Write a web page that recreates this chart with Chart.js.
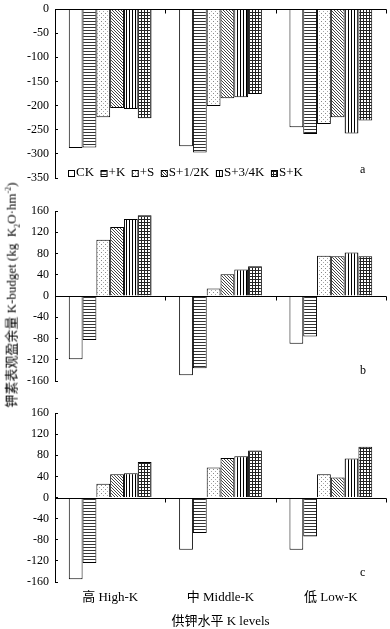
<!DOCTYPE html>
<html>
<head>
<meta charset="utf-8">
<script src="https://cdn.jsdelivr.net/npm/chart.js@4.4.0/dist/chart.umd.min.js"></script>
<style>
  body { margin: 0; background: #fff; width: 390px; height: 629px; position: relative; overflow: hidden;
         font-family: 'Liberation Serif', 'Noto Sans CJK SC', serif; color: #000; }
  canvas { position: absolute; left: 0; }
  #chartA { top: 0; }
  #chartB { top: 195px; }
  #chartC { top: 400px; }
  .tag { position: absolute; left: 360px; font-size: 12px; }
  #ytitle { position: absolute; left: 11px; top: 295px; white-space: nowrap; font-size: 13px;
            transform: translate(-50%, -50%) rotate(-90deg); }
  #ytitle sub, #ytitle sup { font-size: 8px; }
</style>
</head>
<body>
<canvas id="chartA" width="390" height="190"></canvas>
<canvas id="chartB" width="390" height="200"></canvas>
<canvas id="chartC" width="390" height="229"></canvas>
<div id="ytitle">钾素表观盈余量 K-budget (kg&nbsp;&nbsp;K<sub>2</sub>O·hm<sup>-2</sup>)</div>
<div class="tag" style="top:162px">a</div>
<div class="tag" style="top:363px">b</div>
<div class="tag" style="top:565px">c</div>
<script>
// categorias y tratamientos
const levels = ['高 High-K', '中 Middle-K', '低 Low-K'];
const treatments = ['CK', '+K', '+S', 'S+1/2K', 'S+3/4K', 'S+K'];
const fills = ['none', 'hline', 'dots', 'diag', 'vline', 'grid'];

// valores por tratamiento (una fila por tratamiento, columnas = niveles)
const budgetA = [
    [-288, -284, -245],
    [-287, -297, -259],
    [-224, -201, -238],
    [-205, -185, -224],
    [-207, -183, -258],
    [-226, -176, -231]
];
const budgetB = [
    [-119, -149, -90],
    [-83, -136, -76],
    [106, 14, 76],
    [130, 41, 75],
    [145, 50, 82],
    [152, 56, 75]
];
const budgetC = [
    [-155, -99, -99],
    [-124, -67, -74],
    [26, 57, 44],
    [44, 75, 38],
    [46, 78, 74],
    [67, 89, 96]
];

const FONT = "'Liberation Serif', 'Noto Sans CJK SC', serif";

// tramas en blanco y negro
function makePattern(ctx, kind) {
    if (kind === 'none') return '#fff';
    const tile = document.createElement('canvas');
    const s = kind === 'dots' ? 4 : 3;
    tile.width = s;
    tile.height = s;
    const g = tile.getContext('2d');
    g.fillStyle = '#fff';
    g.fillRect(0, 0, s, s);
    if (kind === 'hline') {
        g.fillStyle = '#333';
        g.fillRect(0, 0, s, 1);
    } else if (kind === 'dots') {
        g.fillStyle = '#888';
        g.fillRect(1, 1, 1, 1);
        g.fillStyle = '#aaa';
        g.fillRect(3, 3, 1, 1);
    } else if (kind === 'diag') {
        g.fillStyle = '#444';
        for (let i = 0; i < s; i++) g.fillRect(i, i, 1, 1);
    } else if (kind === 'vline') {
        g.fillStyle = '#000';
        g.fillRect(0, 0, 1, s);
    } else if (kind === 'grid') {
        g.fillStyle = '#222';
        g.fillRect(0, 0, s, 1);
        g.fillRect(0, 0, 1, s);
    }
    return ctx.createPattern(tile, 'repeat');
}

// linea del cero con marcas entre grupos
const zeroAxis = {
    id: 'zeroAxis',
    afterDatasetsDraw(chart) {
        const { ctx, chartArea, scales: { x, y } } = chart;
        const y0 = Math.round(y.getPixelForValue(0)) + 0.5;
        ctx.save();
        ctx.strokeStyle = '#000';
        ctx.lineWidth = 1;
        ctx.beginPath();
        ctx.moveTo(chartArea.left, y0);
        ctx.lineTo(chartArea.right + 0.5, y0);
        for (let i = 1; i <= chart.data.labels.length; i++) {
            const bx = Math.round(x.getPixelForValue(i - 0.5)) + 0.5;
            ctx.moveTo(bx, y0);
            ctx.lineTo(bx, y0 + 4);
        }
        ctx.stroke();
        ctx.restore();
    }
};

// leyenda dentro del area del grafico (solo panel a)
const legendInside = {
    id: 'legendInside',
    afterDraw(chart, args, opts) {
        if (!opts.show) return;
        const ctx = chart.ctx;
        let x = chart.chartArea.left + 13;
        const y = chart.chartArea.bottom - 5;
        ctx.save();
        ctx.font = '13px ' + FONT;
        ctx.textBaseline = 'middle';
        chart.data.datasets.forEach(ds => {
            ctx.fillStyle = ds.backgroundColor;
            ctx.fillRect(x, y - 3, 6, 6);
            ctx.strokeStyle = '#000';
            ctx.lineWidth = 1;
            ctx.strokeRect(x + 0.5, y - 2.5, 6, 6);
            x += 8;
            ctx.fillStyle = '#000';
            ctx.fillText(ds.label, x, y);
            x += ctx.measureText(ds.label).width + 6.5;
        });
        ctx.restore();
    }
};

function buildChart(id, rows, yMin, yMax, step, padTop, padBottom, showX, showLegend) {
    const ctx = document.getElementById(id).getContext('2d');
    const datasets = treatments.map((name, i) => ({
        label: name,
        data: rows[i],
        backgroundColor: makePattern(ctx, fills[i]),
        borderColor: '#000',
        borderWidth: 1,
        categoryPercentage: 0.75,
        barPercentage: 1.0
    }));

    return new Chart(ctx, {
        type: 'bar',
        data: { labels: levels, datasets: datasets },
        options: {
            responsive: false,
            animation: false,
            layout: { padding: { top: padTop, bottom: padBottom, left: 0, right: 4 } },
            plugins: {
                legend: { display: false },
                tooltip: { enabled: false },
                legendInside: { show: showLegend }
            },
            scales: {
                x: {
                    display: showX,
                    offset: true,
                    grid: { display: false, drawTicks: false },
                    border: { display: false },
                    ticks: { color: '#000', font: { family: FONT, size: 13 }, padding: 8 },
                    title: {
                        display: true,
                        text: '供钾水平 K levels',
                        color: '#000',
                        font: { family: FONT, size: 13 },
                        padding: 0
                    },
                    afterFit: s => {
                        s.height = showX ? 47 : 0;
                        s.paddingLeft = 0;
                        s.paddingRight = 0;
                    }
                },
                y: {
                    min: yMin,
                    max: yMax,
                    afterFit: s => {
                        s.width = 55;
                        s.paddingTop = 0;
                        s.paddingBottom = 0;
                    },
                    grid: { display: true, drawOnChartArea: false, drawTicks: true, tickLength: -3, color: '#000' },
                    border: { display: true, color: '#000', width: 1 },
                    ticks: { stepSize: step, autoSkip: false, color: '#000', font: { family: FONT, size: 12 }, padding: 9 }
                }
            }
        },
        plugins: [zeroAxis, legendInside]
    });
}

buildChart('chartA', budgetA, -350, 0, 50, 9, 12, false, true);
buildChart('chartB', budgetB, -160, 160, 40, 16, 14, false, false);
buildChart('chartC', budgetC, -160, 160, 40, 13, 0, true, false);
</script>
</body>
</html>
